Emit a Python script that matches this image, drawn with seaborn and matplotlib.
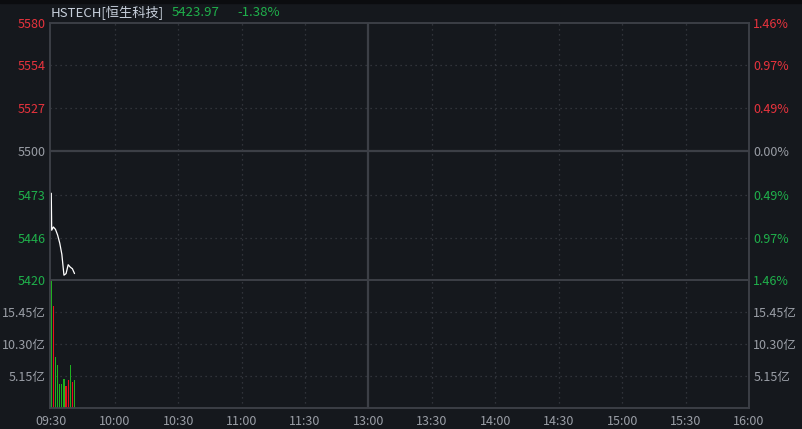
import numpy as np
import pandas as pd
import seaborn as sns
import matplotlib.pyplot as plt

# %% data
price_minutes = [0, 0.2, 1, 2, 3, 4, 5, 6, 7, 8, 9, 10, 11]
prices = [5474, 5451, 5453, 5451.5, 5448, 5443, 5436, 5423, 5424, 5429.5, 5428, 5427, 5424]

vol_minutes = [0, 1, 2, 3, 4, 5, 6, 7, 8, 9, 10, 11]
volumes = [20.6, 16.4, 8.2, 7.0, 3.8, 3.8, 4.6, 3.5, 4.5, 6.9, 4.2, 4.5]
vol_dir = ['down', 'up', 'down', 'down', 'down', 'down', 'down', 'up', 'up', 'down', 'up', 'down']

price_ticks = [5420, 5446, 5473, 5500, 5527, 5554, 5580]
price_labels = ['5420', '5446', '5473', '5500', '5527', '5554', '5580']
pct_labels = ['1.46%', '0.97%', '0.49%', '0.00%', '0.49%', '0.97%', '1.46%']
vol_ticks = [5.15, 10.30, 15.45]
vol_labels = ['5.15亿', '10.30亿', '15.45亿']
vol_max = 20.6

time_ticks = [0, 30, 60, 90, 120, 150, 180, 210, 240, 270, 300, 330]
time_labels = ['09:30', '10:00', '10:30', '11:00', '11:30', '13:00',
               '13:30', '14:00', '14:30', '15:00', '15:30', '16:00']

name = 'HSTECH[恒生科技]'
last_price = '5423.97'
change_pct = '-1.38%'

# %% colours
BG = '#15181d'
GRID = '#3a3d44'
AXIS = '#3c3f46'
RED = '#e8333d'
GREEN = '#1fb04b'
BAR_RED = '#e8141e'
BAR_GREEN = '#1fb020'
GRAY = '#9a9ea6'

sns.set_style('dark', rc={'axes.facecolor': BG, 'figure.facecolor': BG})
plt.rcParams['font.family'] = ['Noto Sans CJK SC', 'DejaVu Sans']

W, H = 803, 429
fig = plt.figure(figsize=(W / 100, H / 100), dpi=100)
left, right = 50, 749
top, mid, bottom = 23, 280, 408
ax_p = fig.add_axes([left / W, 1 - mid / H, (right - left) / W, (mid - top) / H])
ax_v = fig.add_axes([left / W, 1 - bottom / H, (right - left) / W, (bottom - mid) / H])
XLIM = (-0.6, 330)

# %% price panel
sns.lineplot(x=price_minutes, y=prices, color='white', lw=0.9, sort=False,
             estimator=None, zorder=4, ax=ax_p)
ax_p.set_xlim(XLIM)
ax_p.set_ylim(5420, 5580)

label_colors = [GREEN, GREEN, GREEN, GRAY, RED, RED, RED]
ax_p.set_yticks(price_ticks)
ax_p.set_yticklabels(price_labels)
for lab, c in zip(ax_p.get_yticklabels(), label_colors):
    lab.set_color(c)
ax_p.set_xticks(time_ticks)
ax_p.set_xticklabels([])

ax_r = ax_p.twinx()
ax_r.set_ylim(ax_p.get_ylim())
ax_r.set_yticks(price_ticks)
ax_r.set_yticklabels(pct_labels)
for lab, c in zip(ax_r.get_yticklabels(), label_colors):
    lab.set_color(c)

for y in price_ticks[1:-1]:
    if y == 5500:
        ax_p.axhline(y, color=AXIS, lw=1.6)
    else:
        ax_p.axhline(y, color=GRID, lw=0.9, ls=(0, (1, 3)))

# %% volume panel
df_vol = pd.DataFrame({'minute': vol_minutes, 'vol': volumes, 'dir': vol_dir})
sns.barplot(data=df_vol, x='minute', y='vol', hue='dir',
            palette={'up': BAR_RED, 'down': BAR_GREEN}, native_scale=True,
            dodge=False, width=0.55, saturation=1, errorbar=None,
            legend=False, linewidth=0, antialiased=False, zorder=4, ax=ax_v)
ax_v.set_xlim(XLIM)
ax_v.set_ylim(0, vol_max)
ax_v.set_xlabel('')
ax_v.set_ylabel('')
ax_v.set_yticks(vol_ticks)
ax_v.set_yticklabels(vol_labels, color=GRAY)
ax_v.set_xticks(time_ticks)
ax_v.set_xticklabels(time_labels, color=GRAY)

ax_vr = ax_v.twinx()
ax_vr.set_ylim(0, vol_max)
ax_vr.set_yticks(vol_ticks)
ax_vr.set_yticklabels(vol_labels, color=GRAY)

for y in vol_ticks:
    ax_v.axhline(y, color=GRID, lw=0.9, ls=(0, (1, 3)))

# vertical time grid
for ax in (ax_p, ax_v):
    for t in time_ticks[1:-1]:
        if t == 150:
            ax.axvline(t, color=AXIS, lw=1.6)
        else:
            ax.axvline(t, color=GRID, lw=0.9, ls=(0, (1, 3)))

for ax in (ax_p, ax_r, ax_v, ax_vr):
    ax.grid(False)
    ax.tick_params(length=0, labelsize=9, pad=3)
    for s in ax.spines.values():
        s.set_visible(True)
        s.set_color(AXIS)
        s.set_linewidth(1.2)
ax_v.tick_params(axis='x', pad=5)

# %% header texts
fig.patches.append(plt.Rectangle((0, 1 - 3 / H), 1, 3 / H, transform=fig.transFigure,
                                 color='#0b0c0f', zorder=0))
fig.text(51 / W, 1 - 12 / H, name, color='#c8d0dc', fontsize=9.5, va='center')
fig.text(172 / W, 1 - 12 / H, last_price, color=GREEN, fontsize=9.5, va='center')
fig.text(237 / W, 1 - 12 / H, change_pct, color=GREEN, fontsize=9.5, va='center')

fig.savefig('out.png', dpi=100, facecolor=BG)
